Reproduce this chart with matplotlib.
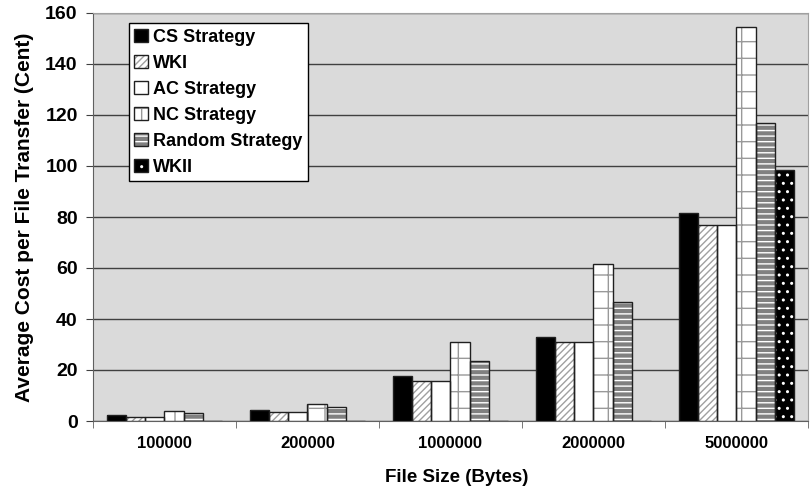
import matplotlib.pyplot as plt
from matplotlib.legend_handler import HandlerTuple
import numpy as np

# Data
file_sizes = ['100000', '200000', '1000000', '2000000', '5000000']
cs_strategy = [2.2, 4.2, 17.7, 33.0, 81.5]
wki = [1.7, 3.4, 15.8, 31.0, 77.0]
ac_strategy = [1.7, 3.4, 15.8, 31.0, 77.0]
nc_strategy = [3.8, 6.6, 31.0, 61.5, 154.5]
random_strategy = [3.0, 5.3, 23.5, 46.5, 117.0]
wkii = [0, 0, 0, 0, 98.5]

series_names = ['CS Strategy', 'WKI', 'AC Strategy', 'NC Strategy',
                'Random Strategy', 'WKII']
series_values = [cs_strategy, wki, ac_strategy, nc_strategy,
                 random_strategy, wkii]

# face colour, hatch, hatch colour
styles = [
    ('black', None, 'black'),
    ('white', '/////', '#a0a0a0'),
    ('white', None, 'black'),
    ('white', '+', '#999999'),
    ('#808080', '---', 'white'),
    ('black', '..', 'white'),
]

plt.rcParams['font.family'] = ['Liberation Sans', 'DejaVu Sans']
plt.rcParams['font.weight'] = 'bold'
plt.rcParams['hatch.linewidth'] = 1.0

fig = plt.figure(figsize=(8.12, 5), dpi=100)
ax = fig.add_axes([0.1145, 0.158, 0.8805, 0.816])
ax.set_facecolor('#dadada')

x = np.arange(len(file_sizes))
width = 0.134
offsets = (np.arange(len(series_names)) - 2.5) * width

handles = []
for i, (name, vals) in enumerate(zip(series_names, series_values)):
    face, hatch, hcol = styles[i]
    # hatch layer
    ax.bar(x + offsets[i], vals, width, color=face, hatch=hatch,
           edgecolor=hcol, linewidth=0, zorder=3)
    # outline layer
    ax.bar(x + offsets[i], vals, width, facecolor='none',
           edgecolor='#202020', linewidth=1.0, zorder=4)
    fill = plt.Rectangle((0, 0), 1, 1, facecolor=face, hatch=hatch,
                         edgecolor=hcol, linewidth=0)
    outline = plt.Rectangle((0, 0), 1, 1, facecolor='none',
                            edgecolor='#202020', linewidth=1.0)
    handles.append((fill, outline))

ax.set_xlim(-0.5, len(file_sizes) - 0.5)
ax.set_ylim(0, 160)
ax.set_yticks(range(0, 161, 20))
ax.yaxis.grid(True, color='#404040', linewidth=1.0, zorder=1)
ax.set_axisbelow(True)

ax.set_xticks(x)
ax.set_xticklabels(file_sizes, fontsize=12, fontweight='bold')
ax.set_xticks(np.arange(-0.5, len(file_sizes)), minor=True)
ax.tick_params(axis='x', which='major', length=0, pad=11)
ax.tick_params(axis='x', which='minor', length=5, direction='out', color='#606060')
ax.tick_params(axis='y', labelsize=14, length=5, direction='out',
               color='#404040', pad=6)
for lbl in ax.get_yticklabels():
    lbl.set_fontweight('bold')

for side in ['top', 'right']:
    ax.spines[side].set_color('#a0a0a0')
for side in ['left', 'bottom']:
    ax.spines[side].set_color('#606060')

ax.set_xlabel('File Size (Bytes)', fontsize=13.5, fontweight='bold')
ax.xaxis.set_label_coords(0.509, -0.118)
ax.set_ylabel('Average Cost per File Transfer (Cent)', fontsize=15,
              fontweight='bold', labelpad=8)

leg = ax.legend(handles, series_names, loc='upper left',
                handler_map={tuple: HandlerTuple(ndivide=1, pad=0)},
                bbox_to_anchor=(0.05, 0.975), frameon=True, fancybox=False,
                framealpha=1, edgecolor='black', fontsize=13,
                handlelength=0.75, handleheight=0.75, handletextpad=0.3,
                labelspacing=0.5, borderpad=0.3, borderaxespad=0)
leg.get_frame().set_linewidth(1.0)
leg.set_zorder(10)
for t in leg.get_texts():
    t.set_fontweight('bold')

plt.savefig('out.png', dpi=100)
plt.close()
